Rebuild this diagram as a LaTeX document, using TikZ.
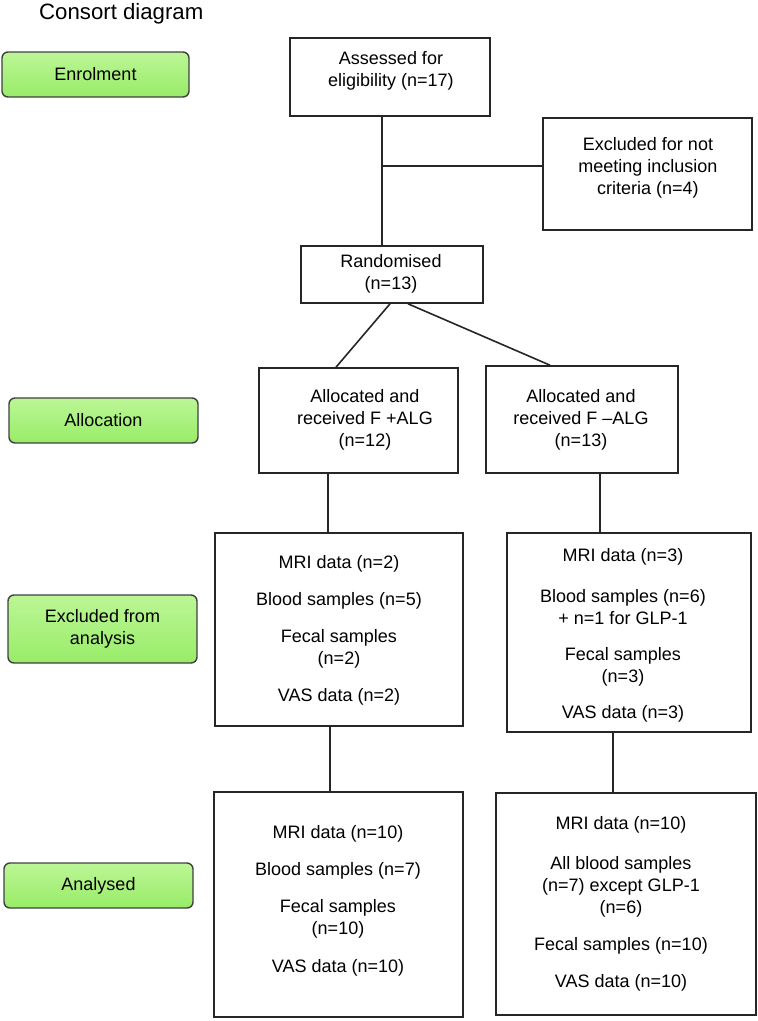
\documentclass[tikz,border=0pt]{standalone}
\usepackage{fontspec}
\setmainfont{Liberation Sans}
\definecolor{gtop}{RGB}{188,246,150}
\definecolor{gbot}{RGB}{152,236,104}
\begin{document}
\begin{tikzpicture}[x=1pt,y=-1pt,
  box/.style={draw=black!85, line width=1.6pt, rectangle, inner sep=0pt},
  stage/.style={draw=black!75, line width=1.4pt, rounded corners=6pt, inner sep=0pt,
    top color=gtop, bottom color=gbot,
    font=\fontsize{18}{22}\selectfont, align=center},
  txt/.style={font=\fontsize{18}{22}\selectfont, align=center, inner sep=0pt},
  conn/.style={draw=black!85, line width=1.6pt}]
\useasboundingbox (0,0) rectangle (758,1021);

% title
\node[anchor=west, font=\fontsize{22.2}{26}\selectfont, inner sep=0pt] (title) at (39,14) {Consort diagram};

% stage labels
\node[stage, minimum width=187pt, minimum height=45pt] (s1) at (95.5,74.5) {Enrolment};
\node[stage, minimum width=189pt, minimum height=45pt] (s2) at (103.5,420.5) {Allocation};
\node[stage, minimum width=189pt, minimum height=68pt] (s3) at (102.5,629) {Excluded from\\analysis};
\node[stage, minimum width=189pt, minimum height=45pt] (s4) at (98.5,885.5) {Analysed};

% boxes
\node[box, minimum width=200pt, minimum height=78pt] (assess) at (390,77) {};
\node[txt] (assessT) at (391,71) {Assessed for\\eligibility (n=17)};

\node[box, minimum width=209pt, minimum height=112pt] (excl) at (647.5,174) {};
\node[txt] (exclT) at (648,168) {Excluded for not\\meeting inclusion\\criteria (n=4)};

\node[box, minimum width=182pt, minimum height=57pt] (rand) at (392,274.5) {};
\node[txt] (randT) at (391,274) {Randomised\\(n=13)};

\node[box, minimum width=199pt, minimum height=105pt] (allocL) at (358.5,420.5) {};
\node[txt] (allocLT) at (365,420) {Allocated and\\received F +ALG\\(n=12)};

\node[box, minimum width=192pt, minimum height=107pt] (allocR) at (582,419.5) {};
\node[txt] (allocRT) at (581,420) {Allocated and\\received F –ALG\\(n=13)};

\node[box, minimum width=248pt, minimum height=193pt] (exclL) at (339,629.5) {};
\node[txt] (exclLT) at (339,630) {MRI data (n=2)\\[15pt]Blood samples (n=5)\\[15pt]Fecal samples\\(n=2)\\[15pt]VAS data (n=2)};

\node[box, minimum width=244pt, minimum height=199pt] (exclR) at (629,632.5) {};
\node[txt] (exclRT) at (623,635) {MRI data (n=3)\\[19pt]Blood samples (n=6)\\+ n=1 for GLP-1\\[14pt]Fecal samples\\(n=3)\\[14pt]VAS data (n=3)};

\node[box, minimum width=249pt, minimum height=225pt] (analL) at (338.5,904.5) {};
\node[txt] (analLT) at (338,901) {MRI data (n=10)\\[15pt]Blood samples (n=7)\\[15pt]Fecal samples\\(n=10)\\[16pt]VAS data (n=10)};

\node[box, minimum width=260pt, minimum height=222pt] (analR) at (626,904) {};
\node[txt] (analRT) at (621,904) {MRI data (n=10)\\[18pt]All blood samples\\(n=7) except GLP-1\\(n=6)\\[15pt]Fecal samples (n=10)\\[15pt]VAS data (n=10)};

% connectors
\draw[conn] ([xshift=-8pt]assess.south) -- ([xshift=-10pt]rand.north);
\coordinate (j) at ([xshift=-8pt,yshift=-49pt]assess.south);
\draw[conn] (j) -- (j -| excl.west);
\draw[conn] ([xshift=-2pt]rand.south) -- ([xshift=-22.5pt]allocL.north);
\draw[conn] ([xshift=16pt]rand.south) -- ([xshift=-32pt]allocR.north);
\draw[conn] ([xshift=-30.5pt]allocL.south) -- ([xshift=-11pt]exclL.north);
\draw[conn] ([xshift=18pt]allocR.south) -- ([xshift=-29pt]exclR.north);
\draw[conn] ([xshift=-9pt]exclL.south) -- ([xshift=-8.5pt]analL.north);
\draw[conn] ([xshift=-16pt]exclR.south) -- ([xshift=-13pt]analR.north);
\end{tikzpicture}
\end{document}
